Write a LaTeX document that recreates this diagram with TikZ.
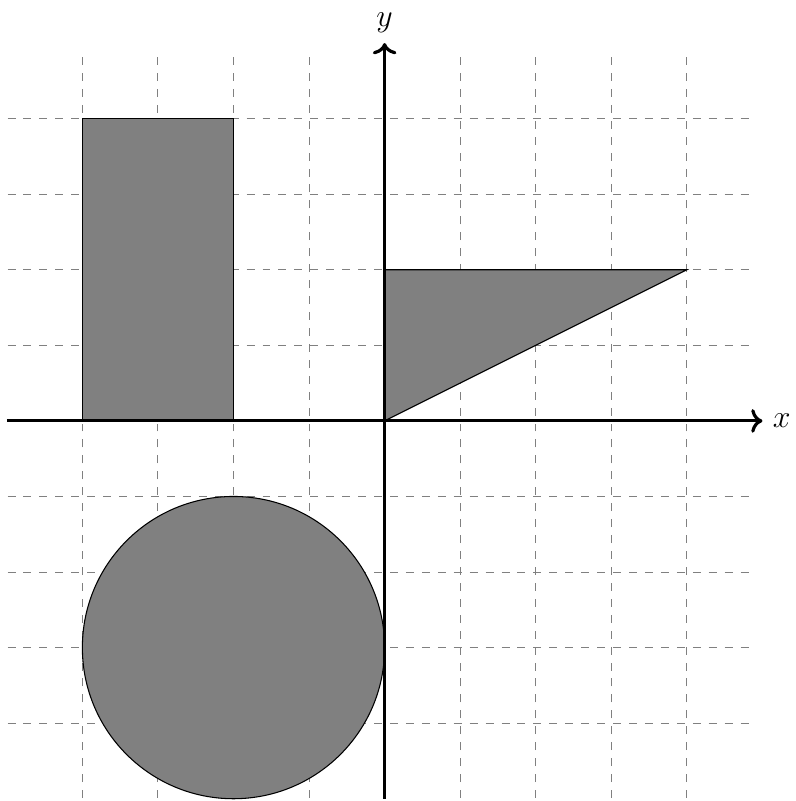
\documentclass[tikz,border=0pt]{standalone}
\usepackage{amsmath, amssymb}
\usepackage{tikz}
\usetikzlibrary{arrows, arrows.meta}

\tikzset{
  gridline/.style={gray, dashed, thin},
  axis/.style={very thick, ->, >=To},
  shapefill/.style={fill=gray, draw=black, thin}
}

\begin{document}
\begin{tikzpicture}[scale=1]
			
			\useasboundingbox (-5.09,-5.03) rectangle (5.44,5.57);
			
			\draw[gridline] (-4.99,-4.99) grid (4.9,4.9);
			
			\coordinate (xmin) at (-5,0);
			\coordinate (xmax) at (5,0);
			\coordinate (ymin) at (0,-5);
			\coordinate (ymax) at (0,5);
			
			\filldraw[shapefill] (-4,0) rectangle (-2,4);
			\filldraw[shapefill] (0,0) -- (0,2) -- (4,2) -- cycle;
			\filldraw[shapefill] (-2,-3) circle (2);
			
			\draw[axis] (xmin) -- (xmax) node[right] (xlabel) {\large $x$};
			\draw[axis] (ymin) -- (ymax) node[above] (ylabel) {\large $y$};
			
		\end{tikzpicture}
\end{document}
